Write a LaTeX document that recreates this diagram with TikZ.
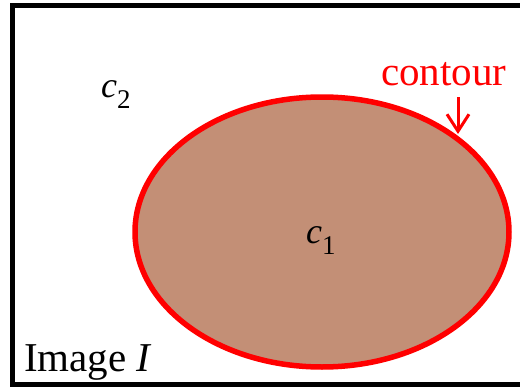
\documentclass[tikz,border=0pt]{standalone}
\usepackage{fontspec}
\setmainfont{Liberation Serif}
\usetikzlibrary{arrows.meta}

\definecolor{regionbrown}{RGB}{195,143,118}
\newcommand{\bigfont}{\fontsize{41}{43}\selectfont}
\newcommand{\varlabel}[2]{\fontsize{36}{38}\selectfont\itshape #1\raisebox{-11pt}{\fontsize{27}{29}\selectfont\upshape #2}}

\begin{document}
\begin{tikzpicture}[x=1pt,y=-1pt,
  lbl/.style={inner sep=0pt,anchor=base west}]
\useasboundingbox (0,0) rectangle (520,388);
\begin{scope}
  \clip (0,0) rectangle (520,388);
  \draw[draw=black,line width=5pt] (12.5,5.5) rectangle (540,384.5);
  \draw[fill=regionbrown,draw=red,line width=5.5pt] (322,232) ellipse [x radius=187, y radius=135];
\end{scope}
\node[lbl,text=red] (contour) at (381,85) {\bigfont contour};
\node[lbl] (image) at (24,371) {\bigfont Image \textit{I}};
\node[lbl] (c2) at (101,97) {\varlabel{c}{2}};
\node[lbl] (c1) at (306,243) {\varlabel{c}{1}};
\coordinate (tail) at (458,97);
\coordinate (tip) at (458,134);
\draw[red,line width=3pt,-{Straight Barb[length=17pt,width=22pt]}] (tail) -- (tip);
\end{tikzpicture}
\end{document}
